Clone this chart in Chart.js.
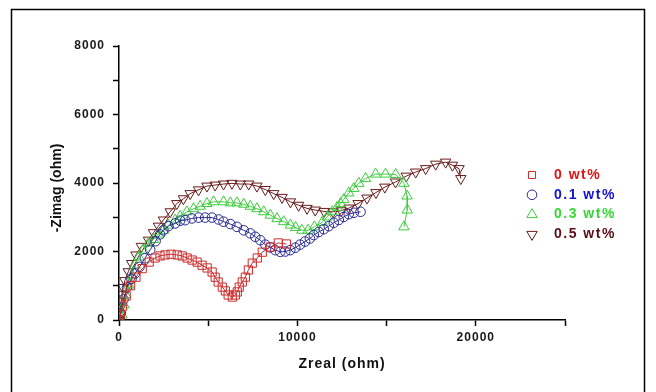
<!DOCTYPE html>
<html>
<head>
<meta charset="utf-8">
<script src="https://cdn.jsdelivr.net/npm/chart.js@4.4.1/dist/chart.umd.min.js"></script>
<style>
  html, body { margin: 0; padding: 0; background: #fff; }
  #wrap { width: 656px; height: 392px; }
</style>
</head>
<body>
<div id="wrap"><canvas id="eis" width="656" height="392"></canvas></div>
<script>
// Nyquist plot, Zreal vs -Zimag (ohm)
const seriesLabels = ['0 wt%', '0.1 wt%', '0.3 wt%', '0.5 wt%'];

const zreal0 = [0, 80, 200, 400, 650, 950, 1300, 1690, 2020, 2300, 2580, 2920, 3260, 3540, 3820, 4100, 4380, 4660, 4940, 5220, 5390, 5560, 5790, 5960, 6120, 6350, 6520, 6630, 6740, 6910, 7080, 7250, 7470, 7750, 8030, 8480, 8930, 9380];
const zimag0 = [0, 150, 400, 700, 1000, 1250, 1500, 1690, 1810, 1870, 1900, 1920, 1900, 1870, 1810, 1750, 1690, 1600, 1520, 1400, 1250, 1110, 960, 850, 730, 670, 730, 820, 960, 1110, 1250, 1460, 1660, 1810, 1980, 2130, 2250, 2220];

const zreal1 = [0, 100, 250, 450, 700, 900, 1150, 1450, 1750, 2050, 2300, 2490, 2770, 3150, 3430, 3710, 4080, 4460, 4830, 5210, 5580, 5860, 6240, 6610, 6990, 7360, 7640, 7920, 8200, 8480, 8760, 9040, 9320, 9600, 9880, 10150, 10430, 10700, 10920, 11200, 11480, 11760, 12040, 12320, 12600, 12880, 13160, 13540];
const zimag1 = [0, 200, 600, 950, 1200, 1360, 1550, 1800, 2050, 2300, 2500, 2620, 2740, 2820, 2900, 2915, 2965, 2990, 2990, 2990, 2935, 2870, 2800, 2720, 2620, 2530, 2430, 2330, 2200, 2120, 2040, 1990, 2000, 2040, 2110, 2200, 2290, 2380, 2480, 2570, 2650, 2740, 2840, 2920, 3010, 3090, 3130, 3160];

const zreal3 = [0, 170, 280, 390, 560, 730, 900, 1120, 1350, 1650, 1930, 2210, 2490, 2770, 3150, 3430, 3800, 4180, 4550, 4930, 5300, 5860, 6240, 6610, 6990, 7360, 7730, 8110, 8480, 8860, 9230, 9610, 9900, 10250, 10600, 10950, 11390, 11670, 11950, 12230, 12420, 12600, 12880, 13160, 13440, 13820, 14380, 14940, 15510, 15970, 16150, 16160, 15970];
const zimag3 = [0, 150, 440, 730, 1020, 1310, 1600, 1840, 2040, 2240, 2350, 2510, 2620, 2770, 2920, 3030, 3160, 3250, 3320, 3400, 3450, 3450, 3420, 3420, 3380, 3320, 3250, 3160, 3060, 2960, 2870, 2770, 2700, 2620, 2620, 2720, 2850, 3010, 3160, 3290, 3400, 3520, 3710, 3840, 3990, 4130, 4260, 4260, 4250, 3990, 3620, 3210, 2720];

const zreal5 = [0, 50, 80, 120, 170, 230, 330, 520, 710, 950, 1250, 1650, 1930, 2210, 2490, 2870, 3240, 3610, 3990, 4460, 4930, 5390, 5860, 6330, 6800, 7270, 7730, 8200, 8670, 9140, 9610, 10070, 10540, 11000, 11500, 12000, 12450, 12900, 13400, 13900, 14400, 14900, 15500, 16100, 16630, 17190, 17750, 18310, 18690, 19060, 19160];
const zimag5 = [0, 150, 350, 550, 750, 950, 1150, 1410, 1650, 1900, 2150, 2330, 2550, 2740, 2920, 3160, 3400, 3540, 3690, 3800, 3910, 3940, 3970, 3990, 3970, 3970, 3910, 3810, 3690, 3580, 3450, 3350, 3260, 3210, 3170, 3160, 3190, 3270, 3400, 3560, 3720, 3880, 4030, 4200, 4320, 4420, 4550, 4610, 4520, 4420, 4130];

const xTicks = [0, 10000, 20000];
const yTicks = [0, 2000, 4000, 6000, 8000];

const markerColors = ['#cc2a2a', '#2b2b96', '#3fcc3f', '#6a1c1c'];
const textColors = ['#e01414', '#1414cc', '#36d836', '#5c0c16'];
const markerStyles = ['rect', 'circle', 'triangle', 'triangle'];
const markerRotation = [0, 0, 0, 180];
const markerRadius = [5.8, 4.8, 6, 6];

function pairs(xs, ys) {
  return xs.map((x, i) => ({ x: x, y: ys[i] }));
}
const allX = [zreal0, zreal1, zreal3, zreal5];
const allY = [zimag0, zimag1, zimag3, zimag5];

const datasets = seriesLabels.map((label, i) => ({
  label: label,
  data: pairs(allX[i], allY[i]),
  showLine: true,
  borderColor: markerColors[i],
  borderWidth: 1,
  pointStyle: markerStyles[i],
  rotation: markerRotation[i],
  pointRadius: markerRadius[i],
  pointBorderWidth: 1,
  pointBorderColor: markerColors[i],
  pointBackgroundColor: 'rgba(0,0,0,0)',
  backgroundColor: 'rgba(0,0,0,0)'
}));

const decor = {
  id: 'decor',
  beforeDraw(chart) {
    const ctx = chart.ctx;
    ctx.save();
    ctx.fillStyle = '#fff';
    ctx.fillRect(0, 0, chart.width, chart.height);
    ctx.strokeStyle = '#000';
    ctx.lineWidth = 1.5;
    ctx.beginPath();
    ctx.moveTo(11.5, 400);
    ctx.lineTo(11.5, 9.5);
    ctx.lineTo(644.5, 9.5);
    ctx.lineTo(644.5, 400);
    ctx.stroke();
    ctx.restore();
    ctx.letterSpacing = '1px';
  },
  afterDraw(chart) {
    const ctx = chart.ctx;
    const area = chart.chartArea;
    ctx.save();
    ctx.fillStyle = '#111';
    ctx.font = 'bold 14px Arial, "Liberation Sans", sans-serif';
    ctx.textAlign = 'center';
    ctx.textBaseline = 'middle';
    ctx.letterSpacing = '1px';
    ctx.fillText('Zreal (ohm)', (area.left + area.right) / 2, 364);
    ctx.letterSpacing = '0px';
    ctx.translate(57, (area.top + area.bottom) / 2 + 5);
    ctx.rotate(-Math.PI / 2);
    ctx.fillText('-Zimag (ohm)', 0, 0);
    ctx.restore();

    // legend
    ctx.save();
    ctx.font = 'bold 14px Arial, "Liberation Sans", sans-serif';
    ctx.textAlign = 'left';
    ctx.textBaseline = 'middle';
    ctx.letterSpacing = '1.5px';
    seriesLabels.forEach((label, i) => {
      const y = 175 + i * 19.8;
      ctx.strokeStyle = markerColors[i];
      ctx.fillStyle = 'rgba(0,0,0,0)';
      ctx.lineWidth = 1;
      Chart.helpers.drawPoint(ctx, {
        pointStyle: markerStyles[i],
        rotation: markerRotation[i],
        radius: i === 0 ? 5 : markerRadius[i],
        borderWidth: 1
      }, 532, y);
      ctx.fillStyle = textColors[i];
      ctx.fillText(label, 554, y);
    });
    ctx.restore();
  }
};

const tickFont = { family: 'Arial, "Liberation Sans", sans-serif', size: 12, weight: 'bold' };

new Chart(document.getElementById('eis').getContext('2d'), {
  type: 'scatter',
  data: { datasets: datasets },
  options: {
    responsive: false,
    animation: false,
    events: [],
    layout: { padding: { left: 0, top: 46, right: 91, bottom: 0 } },
    plugins: { legend: { display: false }, tooltip: { enabled: false } },
    scales: {
      x: {
        type: 'linear',
        min: 0,
        max: 25000,
        border: { color: '#000', width: 1.5 },
        grid: { drawOnChartArea: false, tickLength: 6, tickColor: '#000', tickWidth: 1.5 },
        ticks: {
          stepSize: 5000,
          autoSkip: false,
          maxRotation: 0,
          padding: 4,
          color: '#1a1a1a',
          font: tickFont,
          callback: v => xTicks.includes(v) ? String(v) : ''
        },
        afterFit(scale) { scale.height = 72; }
      },
      y: {
        type: 'linear',
        min: 0,
        max: 8000,
        border: { color: '#000', width: 1.5 },
        grid: { drawOnChartArea: false, tickLength: 6, tickColor: '#000', tickWidth: 1.5 },
        ticks: {
          stepSize: 1000,
          autoSkip: false,
          padding: 8,
          color: '#1a1a1a',
          font: tickFont,
          callback: v => yTicks.includes(v) ? String(v) : ''
        },
        afterFit(scale) { scale.width = 119; }
      }
    }
  },
  plugins: [decor]
});
</script>
</body>
</html>
